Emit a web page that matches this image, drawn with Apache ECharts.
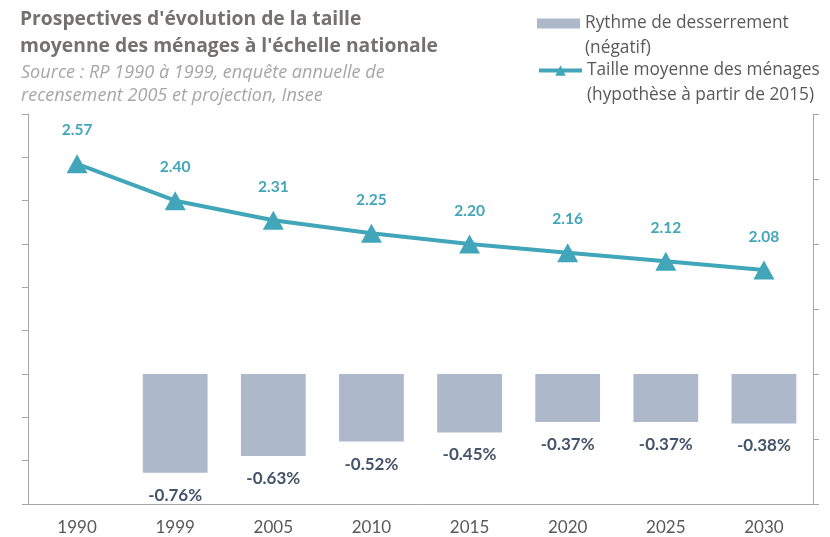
<!DOCTYPE html>
<html lang="fr">
<head>
    <meta charset="UTF-8">
    <title>taille des ménages</title>
    <script src="https://cdn.jsdelivr.net/npm/echarts@6/dist/echarts.min.js"></script>
    <style>
        html, body { margin: 0; padding: 0; background: #fff; }
        #chart { width: 830px; height: 537px; }
    </style>
</head>
<body>
<div id="chart"></div>
<script>
    // données
    const years = ['1990', '1999', '2005', '2010', '2015', '2020', '2025', '2030'];
    const rythme = ['-', -0.76, -0.63, -0.52, -0.45, -0.37, -0.37, -0.38];
    const taille = [2.57, 2.40, 2.31, 2.25, 2.20, 2.16, 2.12, 2.08];

    const nomBarre = 'Rythme de desserrement\n(négatif)';
    const nomLigne = 'Taille moyenne des ménages\n(hypothèse à partir de 2015)';

    const font = 'Lato';
    const teal = '#41A6B9';

    let myChart = echarts.init(document.getElementById('chart'));
    let legendText = {
        color: '#595959',
        fontSize: 17.3,
        fontFamily: 'Open Sans',
        lineHeight: 25
    };
    let option = {
        animation: false,
        title: [{
            text: "Prospectives d'évolution de la taille\nmoyenne des ménages à l'échelle nationale",
            left: 15,
            top: 1,
            textStyle: {color: '#767171', fontSize: 19.3, fontWeight: 'bold', fontFamily: 'Open Sans', lineHeight: 27}
        }, {
            text: 'Source : RP 1990 à 1999, enquête annuelle de\nrecensement 2005 et projection, Insee',
            left: 16,
            top: 56,
            textStyle: {color: '#A6A6A6', fontSize: 18.1, fontStyle: 'italic', fontWeight: 'normal', fontFamily: 'Open Sans', lineHeight: 23.5}
        }],
        legend: [{
            left: 537,
            top: -14,
            padding: 0,
            itemWidth: 43,
            itemHeight: 10,
            data: [{name: nomBarre, icon: 'rect'}],
            // ligne vide devant : l'icône se cale sur la 1re ligne du texte
            formatter: name => ' \n' + name,
            textStyle: legendText
        }, {
            left: 537,
            top: 33,
            padding: 0,
            itemWidth: 43,
            itemHeight: 13,
            data: [nomLigne],
            lineStyle: {width: 4},
            formatter: name => ' \n' + name,
            textStyle: legendText
        }],
        grid: {left: 28, right: 17, top: 114, bottom: 33, containLabel: false},
        xAxis: {
            type: 'category',
            data: years,
            axisLine: {onZero: false, lineStyle: {color: '#A6A6A6', width: 1}},
            axisTick: {show: false},
            axisLabel: {color: '#595959', fontSize: 17, fontFamily: font, margin: 15}
        },
        yAxis: [
            // axe des barres (%)
            {type: 'value', min: -1, max: 2, show: false},
            // axe de la ligne
            {type: 'value', min: 1.0, max: 2.8, show: false},
            // graduations gauche / droite (décor)
            {
                type: 'value', position: 'left', min: 0, max: 9, interval: 1,
                axisLine: {show: true, lineStyle: {color: '#A6A6A6'}},
                axisTick: {show: true, length: 6, lineStyle: {color: '#A6A6A6'}},
                axisLabel: {show: false},
                splitLine: {show: false}
            },
            {
                type: 'value', position: 'right', min: 0, max: 6, interval: 1,
                axisLine: {show: true, lineStyle: {color: '#A6A6A6'}},
                axisTick: {show: true, length: 6, lineStyle: {color: '#A6A6A6'}},
                axisLabel: {show: false},
                splitLine: {show: false}
            }
        ],
        series: [{
            name: nomBarre,
            type: 'bar',
            yAxisIndex: 0,
            barWidth: '66%',
            itemStyle: {color: '#ADB9CA'},
            label: {
                show: true,
                position: 'bottom',
                distance: 14,
                color: '#44546A',
                fontSize: 17,
                fontWeight: 'bold',
                fontFamily: font,
                formatter: p => p.value.toFixed(2) + '%'
            },
            data: rythme
        }, {
            name: nomLigne,
            type: 'line',
            yAxisIndex: 1,
            z: 5,
            symbol: 'triangle',
            symbolSize: [21, 19],
            lineStyle: {color: teal, width: 4},
            itemStyle: {color: teal},
            label: {
                show: true,
                position: 'top',
                distance: 16,
                color: teal,
                fontSize: 15.5,
                fontWeight: 'bold',
                fontFamily: font,
                formatter: p => p.value.toFixed(2)
            },
            data: taille
        }]
    };

    myChart.setOption(option);
</script>
</body>
</html>
